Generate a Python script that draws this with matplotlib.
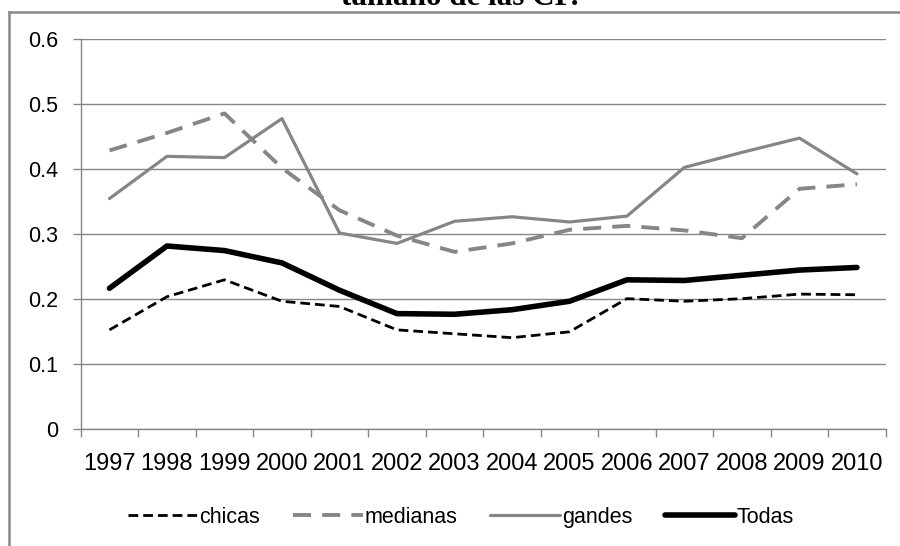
import matplotlib
matplotlib.use('Agg')
from matplotlib import pyplot as plt
from matplotlib.lines import Line2D

years = ['1997', '1998', '1999', '2000', '2001', '2002', '2003',
         '2004', '2005', '2006', '2007', '2008', '2009', '2010']
chicas = [0.153, 0.204, 0.230, 0.197, 0.189, 0.153, 0.147,
          0.141, 0.150, 0.201, 0.197, 0.201, 0.208, 0.207]
medianas = [0.429, 0.456, 0.486, 0.402, 0.337, 0.298, 0.273,
            0.286, 0.307, 0.313, 0.306, 0.294, 0.370, 0.377]
gandes = [0.355, 0.420, 0.418, 0.478, 0.302, 0.286, 0.320,
          0.327, 0.319, 0.328, 0.403, 0.426, 0.448, 0.393]
todas = [0.217, 0.282, 0.275, 0.256, 0.214, 0.178, 0.177,
         0.184, 0.197, 0.230, 0.229, 0.237, 0.245, 0.249]
yticks = [0, 0.1, 0.2, 0.3, 0.4, 0.5, 0.6]
ylabels = ['0', '0.1', '0.2', '0.3', '0.4', '0.5', '0.6']

plt.rcParams['font.family'] = ['Liberation Sans', 'DejaVu Sans']
plt.rcParams['lines.scale_dashes'] = False

gris = '#868686'
fig = plt.figure(figsize=(9, 5.46), dpi=100)
ax = fig.add_axes([0.0897, 0.2137, 0.8944, 0.7143])

x = list(range(len(years)))
ax.plot(x, chicas, color='black', lw=2.0, dashes=(7, 3.6), label='chicas')
ax.plot(x, medianas, color=gris, lw=2.8, dashes=(13, 8), label='medianas')
ax.plot(x, gandes, color=gris, lw=2.3, solid_capstyle='round',
        solid_joinstyle='round', label='gandes')
ax.plot(x, todas, color='black', lw=4.0, solid_capstyle='round',
        solid_joinstyle='round', label='Todas')

# ejes estilo excel
ax.set_xlim(-0.5, len(years) - 0.5)
ax.set_ylim(0, 0.6)
ax.set_yticks(yticks)
ax.set_yticklabels(ylabels, fontsize=15.5)
ax.set_xticks([i - 0.5 for i in range(len(years) + 1)])
ax.set_xticklabels([])
ax.set_xticks(x, minor=True)
ax.set_xticklabels(years, minor=True, fontsize=17)
ax.tick_params(axis='x', which='major', length=6, width=1, color=gris)
ax.tick_params(axis='x', which='minor', length=0, pad=17)
ax.tick_params(axis='y', length=6, width=1, color=gris, pad=10.5)
ax.yaxis.grid(True, color=gris, lw=1.0)
ax.set_axisbelow(True)
for s in ['top', 'right']:
    ax.spines[s].set_visible(False)
for s in ['left', 'bottom']:
    ax.spines[s].set_color(gris)
    ax.spines[s].set_linewidth(1.0)

# titulo cortado
fig.text(0.511, 0.9908, 'tamaño de las CP.', ha='center', va='baseline',
         fontsize=22.4, fontweight='bold', family=['Liberation Serif', 'DejaVu Serif'])

# borde del grafico
fig.add_artist(Line2D([0.01, 0.01], [0, 0.978], transform=fig.transFigure,
                      color='#888888', lw=1.8))
fig.add_artist(Line2D([0.01, 1.0], [0.978, 0.978], transform=fig.transFigure,
                      color='#888888', lw=1.8))

fig.legend(loc='center', bbox_to_anchor=(0.512, 0.053), ncol=4, frameon=False,
           fontsize=15.5, handlelength=3.25, handletextpad=0.1, columnspacing=1.5)

plt.savefig('out.png', dpi=100)
